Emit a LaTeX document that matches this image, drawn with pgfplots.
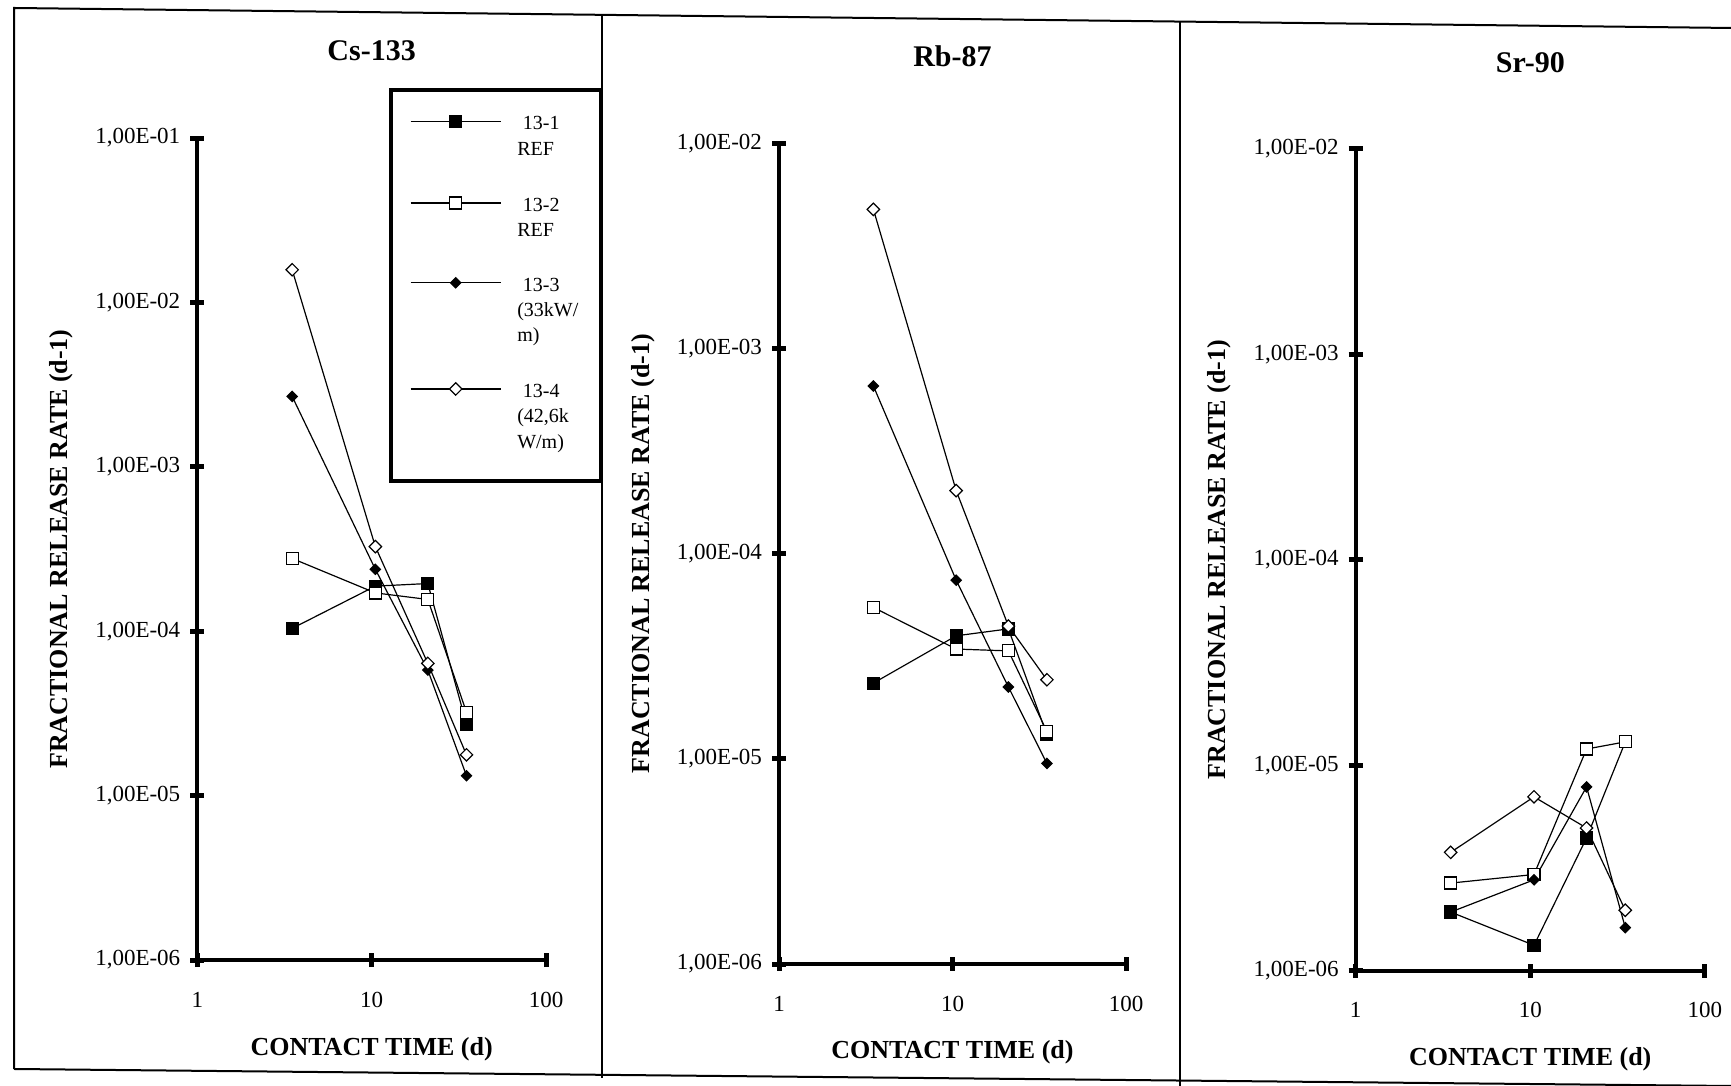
\documentclass[border=0pt]{standalone}
\usepackage{fontspec}
\setmainfont{Liberation Serif}
\usepackage{pgfplots}
\pgfplotsset{compat=1.18}
\pgfplotsset{
  panel/.style={
    scale only axis, xmin=1, xmax=100, ymin=1e-6,
    axis lines=left, axis line style={-, line width=2pt},
    xtick={1,10,100}, xticklabels={1,10,100},
    xminorticks=false, yminorticks=false,
    tick align=center, major tick length=7pt, tick style={line width=2.5pt, black},
    tick label style={font=\fontsize{11.5}{13}\selectfont},
    xticklabel style={yshift=-8.9pt},
    yticklabel style={xshift=-1.5pt},
    title style={at={(axis description cs:0.5,1.091)}, anchor=center, font=\bfseries\fontsize{15}{18}\selectfont},
    xlabel={CONTACT TIME (d)}, ylabel={FRACTIONAL RELEASE RATE (d-1)},
    every axis x label/.style={at={(axis description cs:0.5,-0.108)}, anchor=center, font=\bfseries\fontsize{13}{15}\selectfont},
    every axis y label/.style={at={(axis description cs:-0.39,0.5)}, rotate=90, anchor=center, font=\bfseries\fontsize{13}{15}\selectfont},
    clip=false,
  },
  s1/.style={black, line width=0.6pt, mark=square*, mark size=3pt, mark options={fill=black, line width=0.6pt}},
  s2/.style={black, line width=0.6pt, mark=square*, mark size=3pt, mark options={fill=white, line width=0.6pt}},
  s3/.style={black, line width=0.6pt, mark=square*, mark size=1.8pt, mark options={rotate=45, fill=black, line width=0.6pt}},
  s4/.style={black, line width=0.6pt, mark=square*, mark size=2.2pt, mark options={rotate=45, fill=white, line width=0.6pt}},
}
\begin{document}
\begin{tikzpicture}
\useasboundingbox (0,0) rectangle (865.5pt,543pt);
% frame
\draw[line width=1pt] (7pt,8.5pt) -- (7pt,539pt) -- (865.5pt,529pt);
\draw[line width=1pt] (7pt,8.5pt) -- (865.5pt,0pt);
\draw[line width=0.7pt] (301pt,4pt) -- (301pt,535.6pt);
\draw[line width=0.7pt] (590pt,0pt) -- (590pt,532pt);

% Cs-133
\begin{axis}[xmode=log, ymode=log, panel, at={(98.65pt,63pt)}, anchor=south west, width=174.35pt, height=411pt,
  ymax=1e-1, title={Cs-133},
  ytick={1e-6,1e-5,1e-4,1e-3,1e-2,1e-1},
  yticklabels={{1,00E-06},{1,00E-05},{1,00E-04},{1,00E-03},{1,00E-02},{1,00E-01}},
  legend image code/.code={\draw[mark repeat=2,mark phase=2,#1] plot coordinates {(0pt,4.2pt) (22.5pt,4.2pt) (45pt,4.2pt)};},
  legend style={at={(axis description cs:0.55,1.061)}, anchor=north west, draw=black, line width=2pt,
    font=\fontsize{10}{12.7}\selectfont, row sep=0pt, inner xsep=9.5pt, inner ysep=9pt,
    cells={anchor=base west},
    /tikz/every odd column/.append style={column sep=6pt}}]
\addplot[s1] coordinates {(3.5,1.04e-4) (10.5,1.88e-4) (21,1.95e-4) (35,2.72e-5)};
\addlegendentry[text depth=28pt]{\begin{tabular}[t]{@{}l@{}}\hspace{2.8pt}13-1\\REF\end{tabular}}
\addplot[s2] coordinates {(3.5,2.77e-4) (10.5,1.71e-4) (21,1.56e-4) (35,3.21e-5)};
\addlegendentry[text depth=27pt]{\begin{tabular}[t]{@{}l@{}}\hspace{2.8pt}13-2\\REF\end{tabular}}
\addplot[s3] coordinates {(3.5,2.68e-3) (10.5,2.38e-4) (21,5.8e-5) (35,1.32e-5)};
\addlegendentry[text depth=40.2pt]{\begin{tabular}[t]{@{}l@{}}\hspace{2.8pt}13-3\\(33kW/\\m)\end{tabular}}
\addplot[s4] coordinates {(3.5,1.58e-2) (10.5,3.27e-4) (21,6.37e-5) (35,1.77e-5)};
\addlegendentry[text depth=31pt]{\begin{tabular}[t]{@{}l@{}}\hspace{2.8pt}13-4\\(42,6k\\W/m)\end{tabular}}
\end{axis}

% Rb-87
\begin{axis}[xmode=log, ymode=log, panel, at={(389.5pt,61pt)}, anchor=south west, width=173.5pt, height=410.3pt,
  ymax=1e-2, title={Rb-87},
  ytick={1e-6,1e-5,1e-4,1e-3,1e-2},
  yticklabels={{1,00E-06},{1,00E-05},{1,00E-04},{1,00E-03},{1,00E-02}}]
\addplot[s1] coordinates {(3.5,2.34e-5) (10.5,3.98e-5) (21,4.3e-5) (35,1.31e-5)};
\addplot[s2] coordinates {(3.5,5.47e-5) (10.5,3.43e-5) (21,3.36e-5) (35,1.36e-5)};
\addplot[s3] coordinates {(3.5,6.57e-4) (10.5,7.43e-5) (21,2.24e-5) (35,9.5e-6)};
\addplot[s4] coordinates {(3.5,4.77e-3) (10.5,2.03e-4) (21,4.44e-5) (35,2.43e-5)};
\end{axis}

% Sr-90
\begin{axis}[xmode=log, ymode=log, panel, at={(677.85pt,57.65pt)}, anchor=south west, width=174.6pt, height=410.85pt,
  ymax=1e-2, title={Sr-90},
  ytick={1e-6,1e-5,1e-4,1e-3,1e-2},
  yticklabels={{1,00E-06},{1,00E-05},{1,00E-04},{1,00E-03},{1,00E-02}}]
\addplot[s1] coordinates {(3.5,1.93e-6) (10.5,1.33e-6) (21,4.43e-6) (35,1.30e-5)};
\addplot[s2] coordinates {(3.5,2.67e-6) (10.5,2.94e-6) (21,1.20e-5) (35,1.30e-5)};
\addplot[s3] coordinates {(3.5,1.93e-6) (10.5,2.77e-6) (21,7.85e-6) (35,1.62e-6)};
\addplot[s4] coordinates {(3.5,3.77e-6) (10.5,7.02e-6) (21,4.95e-6) (35,1.97e-6)};
\end{axis}
\end{tikzpicture}
\end{document}
